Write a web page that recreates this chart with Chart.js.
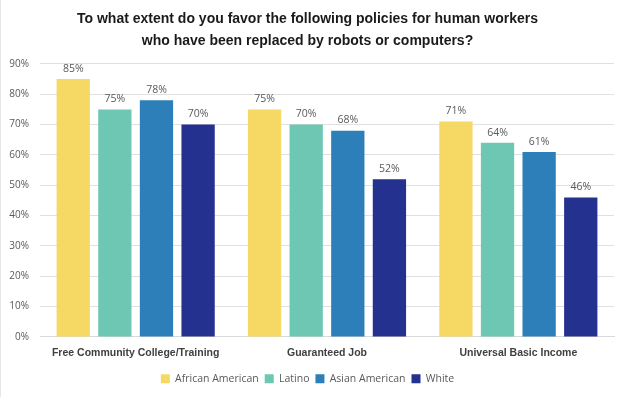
<!DOCTYPE html>
<html>
<head>
<meta charset="utf-8">
<script src="https://cdn.jsdelivr.net/npm/chart.js@4.4.1/dist/chart.umd.min.js"></script>
<style>
  html, body { margin: 0; padding: 0; background: #fff; }
  #wrap { width: 622px; height: 397px; position: relative; border-left: 1px solid #e6e6e6; box-sizing: border-box; }
</style>
</head>
<body>
<div id="wrap"><canvas id="graphique"></canvas></div>
<script>
// Données
const politiques = ['Free Community College/Training', 'Guaranteed Job', 'Universal Basic Income'];
const africainAmericain = [85, 75, 71];
const latino = [75, 70, 64];
const asiatiqueAmericain = [78, 68, 61];
const blanc = [70, 52, 46];
const graduations = [0, 10, 20, 30, 40, 50, 60, 70, 80, 90];

const couleurs = ['#F6D865', '#6EC7B2', '#2D7FBA', '#24318F'];
const police = '"Liberation Sans", Arial, sans-serif';

// Petit plugin pour écrire les pourcentages au-dessus des barres
const etiquettesBarres = {
    id: 'etiquettesBarres',
    afterDatasetsDraw(chart) {
        const ctx = chart.ctx;
        ctx.save();
        ctx.font = '10.5px "Open Sans", sans-serif';
        ctx.fillStyle = '#595959';
        ctx.textAlign = 'center';
        ctx.textBaseline = 'bottom';
        chart.data.datasets.forEach((ds, i) => {
            chart.getDatasetMeta(i).data.forEach((barre, j) => {
                ctx.fillText(ds.data[j] + '%', barre.x, barre.y - 5);
            });
        });
        ctx.restore();
    }
};

new Chart(document.getElementById('graphique').getContext('2d'), {
    type: 'bar',
    data: {
        labels: politiques,
        datasets: [
            { label: 'African American', data: africainAmericain, backgroundColor: couleurs[0] },
            { label: 'Latino', data: latino, backgroundColor: couleurs[1] },
            { label: 'Asian American', data: asiatiqueAmericain, backgroundColor: couleurs[2] },
            { label: 'White', data: blanc, backgroundColor: couleurs[3] }
        ]
    },
    options: {
        responsive: true,
        maintainAspectRatio: false,
        animation: false,
        datasets: { bar: { barPercentage: 0.8, categoryPercentage: 0.87 } },
        layout: { padding: { left: 0, right: 8, top: 6, bottom: 3 } },
        plugins: {
            title: {
                display: true,
                text: ['To what extent do you favor the following policies for human workers',
                       'who have been replaced by robots or computers?'],
                color: '#1a1a1a',
                font: { family: police, size: 14, weight: 'bold', lineHeight: 1.57 },
                padding: { top: 2, bottom: 12 }
            },
            legend: {
                position: 'bottom',
                labels: {
                    boxWidth: 9, boxHeight: 9, padding: 6,
                    color: '#595959',
                    font: { family: '"Open Sans", sans-serif', size: 10.5 }
                }
            },
            tooltip: { enabled: false }
        },
        scales: {
            x: {
                grid: { display: false, drawTicks: false },
                border: { color: '#d9d9d9' },
                afterFit: axe => { axe.height -= 2; },
                ticks: {
                    color: '#404040',
                    padding: 10,
                    font: { family: police, size: 10.5, weight: 'bold' }
                }
            },
            y: {
                min: 0, max: 90,
                afterBuildTicks: axe => { axe.ticks = graduations.map(v => ({ value: v })); },
                afterFit: axe => { axe.width = 39; },
                grid: { color: '#e0e0e0', drawTicks: false },
                border: { display: false },
                ticks: {
                    color: '#595959',
                    padding: 11,
                    font: { family: '"Open Sans", sans-serif', size: 10 },
                    callback: v => v + '%'
                }
            }
        }
    },
    plugins: [etiquettesBarres]
});
</script>
</body>
</html>
